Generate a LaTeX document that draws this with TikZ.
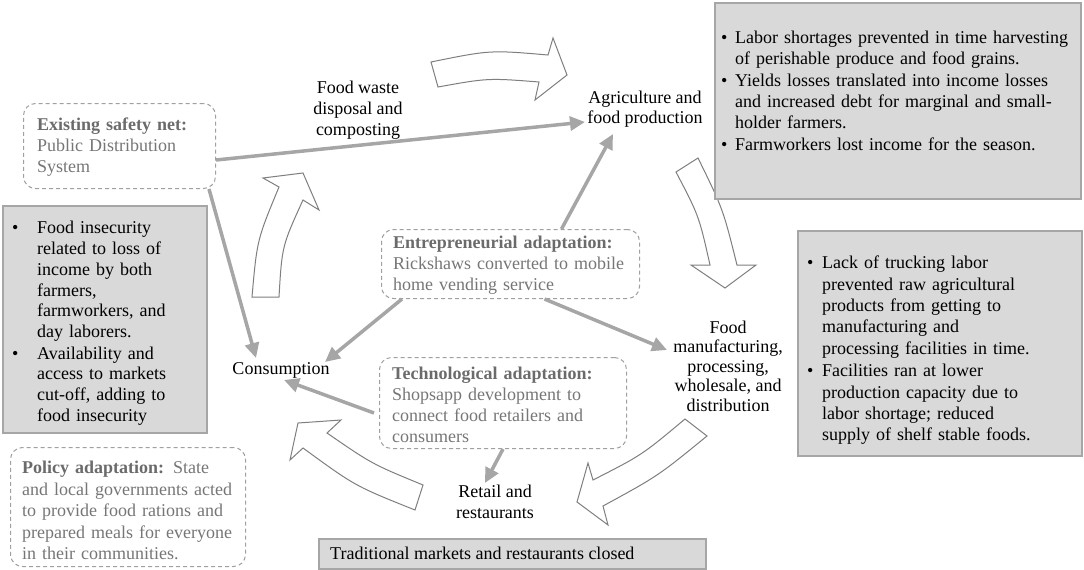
\documentclass[tikz,border=0pt]{standalone}
\usepackage{fontspec}
\setmainfont{Liberation Serif}
\usetikzlibrary{arrows.meta,calc}
\definecolor{boxgray}{HTML}{D9D9D9}
\definecolor{boxline}{HTML}{A6A6A6}
\definecolor{connc}{HTML}{A6A6A6}
\definecolor{dashc}{HTML}{A0A0A0}
\definecolor{adtext}{HTML}{767676}
\definecolor{adhead}{HTML}{6B6B6B}
\definecolor{outl}{HTML}{7F7F7F}
\newcommand{\bitem}[2]{\par\noindent\makebox[#1][l]{\textbullet}\begin{tabular}[t]{@{}l@{}}#2\end{tabular}}
\newcommand{\adh}[1]{\textbf{\color{adhead}#1}}
\begin{document}
\begin{tikzpicture}[x=1pt,y=-1pt,
  every node/.style={inner sep=0pt, font=\fontsize{18}{21}\selectfont},
  graybox/.style={draw=boxline, fill=boxgray, line width=1.5pt, anchor=north west},
  dbox/.style={draw=dashc, line width=1pt, dash pattern=on 4pt off 3pt, rounded corners=12pt, anchor=north west},
  txt/.style={anchor=north west, align=left},
  adtxt/.style={anchor=north west, align=left, text=adtext},
  lbl/.style={align=center},
  connector/.style={draw=connc, line width=3.5pt, -{Triangle[length=15pt,width=14pt]}},
  bigarrow/.style={draw=outl, line width=1pt, fill=white, line join=miter}]
\useasboundingbox (0,0) rectangle (1084,570);

% hollow cycle arrows
\draw[bigarrow] (431,62) .. controls (490,50) .. (548,55) -- (553,38) -- (567,75) -- (535,100) -- (539,82) .. controls (488,78) .. (438,87) -- cycle;
\draw[bigarrow] (252,297) .. controls (257,240) .. (279,187) -- (263,178) -- (303,173) -- (319,210) -- (303,200) .. controls (282,246) .. (279,297) -- cycle;
\draw[bigarrow] (676,172) .. controls (699,216) .. (710,265) -- (691,265) -- (725,288) -- (756,265) -- (737,265) .. controls (723,209) .. (698,158) -- cycle;
\draw[bigarrow] (685,419) .. controls (642,455) .. (593,480) -- (588,463) -- (577,502) -- (608,525) -- (603,506) .. controls (658,476) .. (707,436) -- cycle;
\draw[bigarrow] (423,485) .. controls (372,464) .. (327,433) -- (341,420) -- (298,423) -- (290,460) -- (303,448) .. controls (355,486) .. (415,510) -- cycle;

% gray boxes
\node[graybox, minimum width=366pt, minimum height=196pt] (trbox) at (714,2) {};
\node[txt, text width=360pt] (trtext) at (721,22) {%
\bitem{14pt}{Labor shortages prevented in time harvesting\\of perishable produce and food grains.}%
\bitem{14pt}{Yields losses translated into income losses\\and increased debt for marginal and small-\\holder farmers.}%
\bitem{14pt}{Farmworkers lost income for the season.}};

\node[graybox, minimum width=204pt, minimum height=227pt] (lbox) at (2,205) {};
\node[txt, text width=200pt, font=\fontsize{18}{20.7}\selectfont] (ltext) at (12,213) {%
\bitem{25pt}{Food insecurity\\related to loss of\\income by both\\farmers,\\farmworkers, and\\day laborers.}%
\bitem{25pt}{Availability and\\access to markets\\cut-off, adding to\\food insecurity}};

\node[graybox, minimum width=284pt, minimum height=225pt] (rbox) at (797,230) {};
\node[txt, text width=280pt, font=\fontsize{18}{21.4}\selectfont] (rtext) at (807,247) {%
\bitem{15pt}{Lack of trucking labor\\prevented raw agricultural\\products from getting to\\manufacturing and\\processing facilities in time.}%
\bitem{15pt}{Facilities ran at lower\\production capacity due to\\labor shortage; reduced\\supply of shelf stable foods.}};

\node[graybox, minimum width=387pt, minimum height=30pt] (tmbox) at (318,538) {};
\node[anchor=west] (tmtext) at (330,553) {Traditional markets and restaurants closed};

% dashed adaptation boxes
\node[dbox, minimum width=192pt, minimum height=85pt] (exist) at (23,103) {};
\node[adtxt, text width=180pt] (existtxt) at (37,118) {\adh{Existing safety net:}\\Public Distribution\\System};

\node[dbox, minimum width=258pt, minimum height=69pt] (ent) at (381,229) {};
\node[adtxt, text width=250pt] (enttxt) at (393,236) {\adh{Entrepreneurial adaptation:}\\Rickshaws converted to mobile\\home vending service};

\node[dbox, minimum width=247pt, minimum height=91pt] (tech) at (379,357) {};
\node[adtxt, text width=240pt] (techtxt) at (392,367) {\adh{Technological adaptation:}\\Shopsapp development to\\connect food retailers and\\consumers};

\node[dbox, minimum width=235pt, minimum height=119pt] (pol) at (10,447) {};
\node[adtxt, text width=230pt, font=\fontsize{18}{21.5}\selectfont] (poltxt) at (22,461) {\adh{Policy adaptation:} State\\and local governments acted\\to provide food rations and\\prepared meals for everyone\\in their communities.};

% stage labels
\node[lbl] (waste) at (358,110) {Food waste\\disposal and\\composting};
\node[lbl, font=\fontsize{18}{20}\selectfont] (agri) at (645,109) {Agriculture and\\food production};
\node[lbl] (cons) at (281,370) {Consumption};
\node[lbl, font=\fontsize{18}{19.5}\selectfont] (fm) at (728,366) {Food\\manufacturing,\\processing,\\wholesale, and\\distribution};
\node[lbl, font=\fontsize{18}{21}\selectfont] (retail) at (495,502) {Retail and\\restaurants};

% connectors
\draw[connector] ($(exist.east)+(0,14)$) -- ($(agri)+(-60,13)$);
\draw[connector] ($(exist.south east)+(-7,0)$) -- ($(cons)+(-25,-12)$);
\draw[connector] ($(ent.north)+(51,0)$) -- ($(agri)+(-32,25)$);
\draw[connector] ($(ent.south west)+(21,0)$) -- ($(cons)+(44,-8)$);
\draw[connector] ($(ent.south)+(34,0)$) -- ($(fm)+(-61,-16)$);
\draw[connector] ($(tech.west)+(-5,10)$) -- ($(cons)+(3,10)$);
\draw[connector] (tech.south) -- ($(retail)+(-10,-19)$);
\end{tikzpicture}
\end{document}
